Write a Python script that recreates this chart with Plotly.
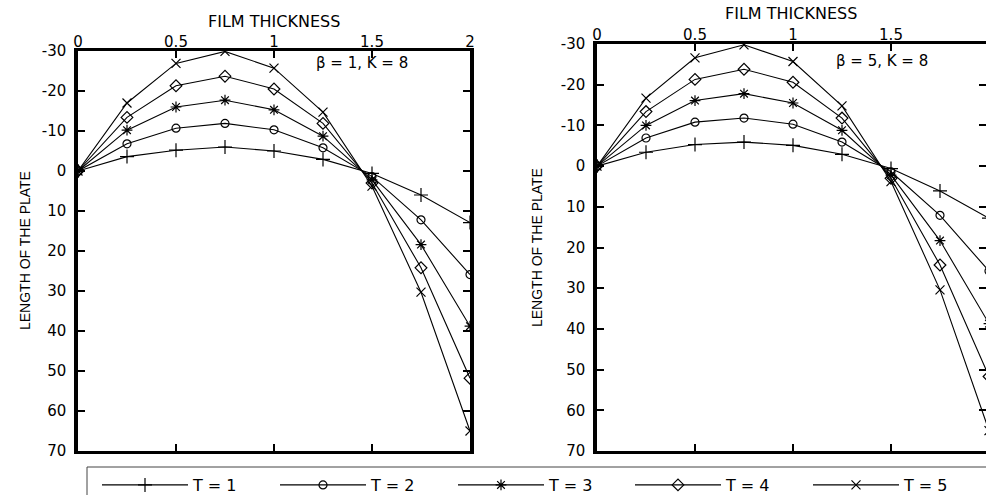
import plotly.graph_objects as go

# ---- data ----
thickness = [0, 0.25, 0.5, 0.75, 1.0, 1.25, 1.5, 1.75, 2.0]
series_names = ["T = 1", "T = 2", "T = 3", "T = 4", "T = 5"]

# left panel: beta = 1, K = 8
left_t1 = [0, -3.6, -5.2, -6.0, -5.0, -2.9, 0.6, 6.0, 12.9]
left_t2 = [0, -6.8, -10.7, -11.9, -10.3, -5.8, 1.4, 12.2, 25.9]
left_t3 = [0, -10.2, -16.0, -17.7, -15.3, -8.7, 2.2, 18.4, 38.8]
left_t4 = [0, -13.4, -21.3, -23.7, -20.5, -11.9, 3.0, 24.2, 51.8]
left_t5 = [0, -17.0, -26.9, -29.9, -25.7, -14.7, 3.8, 30.3, 65.0]

# right panel: beta = 5, K = 8
right_t1 = [0, -3.4, -5.3, -5.9, -5.1, -2.9, 0.6, 6.1, 12.8]
right_t2 = [0, -6.9, -10.8, -11.8, -10.3, -5.9, 1.4, 12.1, 25.8]
right_t3 = [0, -10.0, -16.1, -17.8, -15.5, -8.8, 2.2, 18.3, 38.7]
right_t4 = [0, -13.4, -21.3, -23.8, -20.6, -11.8, 3.0, 24.3, 51.7]
right_t5 = [0, -16.7, -26.6, -29.8, -25.7, -14.8, 3.8, 30.4, 65.0]

x_tick_vals = [0, 0.5, 1, 1.5, 2]
x_tick_text = ["0", "0.5", "1", "1.5", "2"]
y_tick_vals = [-30, -20, -10, 0, 10, 20, 30, 40, 50, 60, 70]
y_tick_text = ["-30", "-20", "-10", "0", "10", "20", "30", "40", "50", "60", "70"]

x_title = "FILM THICKNESS"
y_title = "LENGTH OF THE PLATE"
left_label = "β = 1, K = 8"
right_label = "β = 5, K = 8"

# ---- styles ----
symbols = ["cross-thin-open", "circle-open", "asterisk-open", "diamond-open", "x-thin-open"]
sizes = [10, 8, 9, 9, 9]
W, H = 986, 495
FONT = "DejaVu Sans"
legend_ids = ["legend", "legend2", "legend3", "legend4", "legend5"]
legend_line_start_px = [103, 281, 459, 636, 814]

fig = go.Figure()

left_sets = [left_t1, left_t2, left_t3, left_t4, left_t5]
right_sets = [right_t1, right_t2, right_t3, right_t4, right_t5]

for i, (name, ys) in enumerate(zip(series_names, left_sets)):
    fig.add_trace(go.Scatter(
        x=thickness, y=ys, mode="lines+markers", name=name,
        line=dict(color="black", width=1.1),
        marker=dict(symbol=symbols[i], size=sizes[i], color="black",
                    line=dict(color="black", width=1.2)),
        xaxis="x", yaxis="y", showlegend=True, legend=legend_ids[i],
    ))
for i, (name, ys) in enumerate(zip(series_names, right_sets)):
    fig.add_trace(go.Scatter(
        x=thickness, y=ys, mode="lines+markers", name=name,
        line=dict(color="black", width=1.1),
        marker=dict(symbol=symbols[i], size=sizes[i], color="black",
                    line=dict(color="black", width=1.2)),
        xaxis="x2", yaxis="y2", showlegend=False,
    ))

def px_x(p):
    return p / W

def px_y(p):
    return (H - p) / H

tickfont = dict(family=FONT, size=15, color="black")

xcommon = dict(side="top", tickvals=x_tick_vals, ticktext=x_tick_text,
               ticks="inside", ticklen=7, tickwidth=2, tickcolor="black",
               showline=True, linewidth=2.5, linecolor="black", mirror="ticks",
               showgrid=False, zeroline=False, tickfont=tickfont,
               ticklabelstandoff=-5)
ycommon = dict(tickvals=y_tick_vals, ticktext=y_tick_text,
               ticks="inside", ticklen=7, tickwidth=2, tickcolor="black",
               showline=True, linewidth=3.5, linecolor="black", mirror="ticks",
               showgrid=False, zeroline=False, tickfont=tickfont,
               ticklabelstandoff=5)

layout_legends = {}
for i, lid in enumerate(legend_ids):
    layout_legends[lid] = dict(
        orientation="h", x=px_x(legend_line_start_px[i] - 6), y=px_y(485),
        xanchor="left", yanchor="middle",
        bgcolor="rgba(0,0,0,0)", borderwidth=0, itemwidth=86,
        font=dict(family=FONT, size=16, color="black"))

fig.update_layout(
    width=W, height=H,
    margin=dict(l=0, r=0, t=0, b=0, autoexpand=False),
    paper_bgcolor="white", plot_bgcolor="white",
    xaxis=dict(domain=[px_x(78), px_x(470)], range=[0, 2], anchor="y", **xcommon),
    yaxis=dict(domain=[px_y(451), px_y(51)], range=[70, -30], anchor="x", **ycommon),
    xaxis2=dict(domain=[px_x(597), 1.0], range=[0, (W - 597) / 196.0], anchor="y2", **xcommon),
    yaxis2=dict(domain=[px_y(451), px_y(44)], range=[70, -30], anchor="x2", **ycommon),
    showlegend=True,
    **layout_legends,
)

annotations = [
    dict(text=x_title, xref="paper", yref="paper", x=px_x(274), y=px_y(21),
         showarrow=False, xanchor="center", yanchor="middle",
         font=dict(family=FONT, size=16, color="black")),
    dict(text=x_title, xref="paper", yref="paper", x=px_x(791), y=px_y(14),
         showarrow=False, xanchor="center", yanchor="middle",
         font=dict(family=FONT, size=16, color="black")),
    dict(text=y_title, xref="paper", yref="paper", x=px_x(25), y=px_y(251),
         showarrow=False, textangle=-90, xanchor="center", yanchor="middle",
         font=dict(family="Liberation Sans", size=14, color="black")),
    dict(text=y_title, xref="paper", yref="paper", x=px_x(537), y=px_y(248),
         showarrow=False, textangle=-90, xanchor="center", yanchor="middle",
         font=dict(family="Liberation Sans", size=14, color="black")),
    dict(text=left_label, xref="x", yref="y", x=1.447, y=-26.9,
         showarrow=False, xanchor="center", yanchor="middle",
         font=dict(family=FONT, size=15, color="black")),
    dict(text=right_label, xref="x2", yref="y2", x=1.452, y=-25.9,
         showarrow=False, xanchor="center", yanchor="middle",
         font=dict(family=FONT, size=15, color="black")),
]
fig.update_layout(annotations=annotations)

fig.add_shape(type="rect", xref="paper", yref="paper",
              x0=px_x(87), x1=px_x(995), y0=px_y(467), y1=px_y(505),
              line=dict(color="#444444", width=1), fillcolor="rgba(0,0,0,0)", layer="below")

fig.write_html("out.html")
